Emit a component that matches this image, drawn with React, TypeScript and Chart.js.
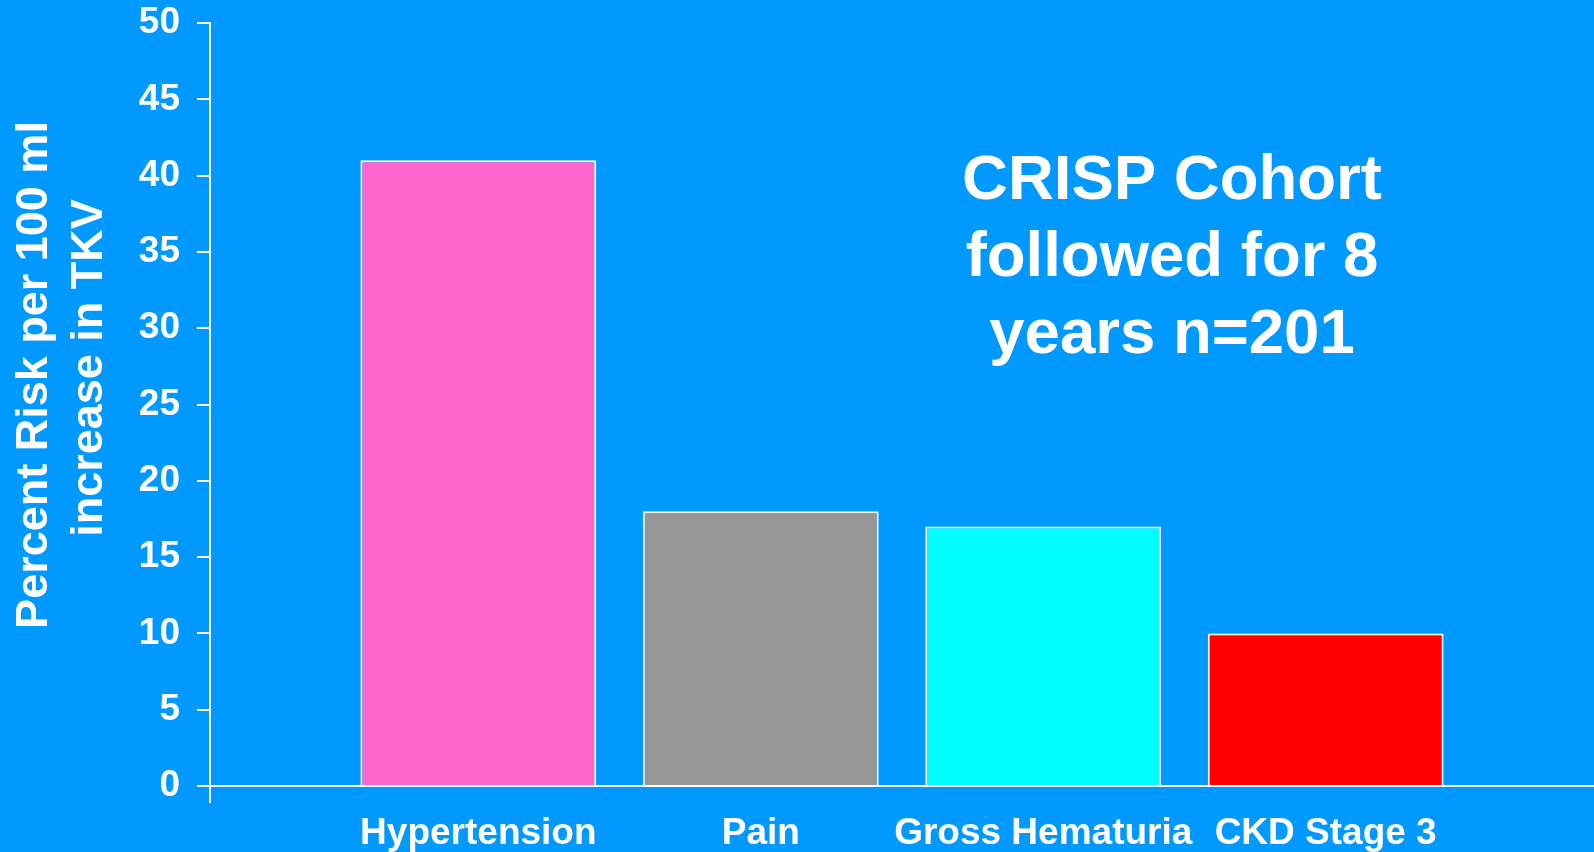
import React, { useEffect, useRef } from "react";
import { Chart, registerables } from "chart.js";

Chart.register(...registerables);

// ---- data ----
const categories = ["Hypertension", "Pain", "Gross Hematuria", "CKD Stage 3"];
const categoryPositions = [1, 2, 3, 4];
const riskValues = [41, 18, 17, 10];
const barColors = ["#FF66CC", "#969696", "#00FFFF", "#FF0000"];
const yTickValues = [0, 5, 10, 15, 20, 25, 30, 35, 40, 45, 50];
const yTitleLines = ["Percent Risk per 100 ml", "increase in TKV"];
const noteLines = ["CRISP Cohort", "followed for 8", "years n=201"];

const FONT = '"Liberation Sans", Arial, Helvetica, sans-serif';
const BG = "#0099FF";

const decorPlugin = {
  id: "decor",
  afterDraw(chart: any) {
    const { ctx, chartArea } = chart;
    ctx.save();
    // y axis continues a little below the x axis
    ctx.strokeStyle = "#FFFFFF";
    ctx.lineWidth = 2;
    ctx.beginPath();
    ctx.moveTo(chartArea.left, chartArea.bottom);
    ctx.lineTo(chartArea.left, chartArea.bottom + 17);
    ctx.stroke();

    ctx.fillStyle = "#FFFFFF";
    // rotated y-axis title (two lines)
    ctx.font = `bold 45px ${FONT}`;
    ctx.textAlign = "center";
    ctx.textBaseline = "alphabetic";
    const titlePos = [
      [47, 375],
      [102, 368],
    ];
    yTitleLines.forEach((line, i) => {
      ctx.save();
      ctx.translate(titlePos[i][0], titlePos[i][1]);
      ctx.rotate(-Math.PI / 2);
      ctx.fillText(line, 0, 0);
      ctx.restore();
    });

    // annotation text block
    ctx.font = `bold 63.5px ${FONT}`;
    ctx.textAlign = "center";
    noteLines.forEach((line, i) => {
      ctx.fillText(line, 1172, 199 + i * 77);
    });
    ctx.restore();
  },
};

export default function App() {
  const canvasRef = useRef<HTMLCanvasElement | null>(null);

  useEffect(() => {
    if (!canvasRef.current) return;
    const chart = new Chart(canvasRef.current, {
      type: "bar",
      data: {
        datasets: [
          {
            data: categoryPositions.map((x, i) => ({ x, y: riskValues[i] })),
            backgroundColor: barColors,
            borderColor: "#FFFFFF",
            borderWidth: 2,
            barPercentage: 0.835,
            categoryPercentage: 1,
          },
        ],
      },
      options: {
        animation: false,
        responsive: true,
        maintainAspectRatio: false,
        layout: { padding: { top: 23, left: 0, right: 0, bottom: 0 } },
        plugins: {
          legend: { display: false },
          tooltip: { enabled: false },
          title: { display: false },
        },
        scales: {
          x: {
            type: "linear",
            min: 0.05,
            max: 4.95,
            offset: false,
            afterBuildTicks: (axis: any) => {
              axis.ticks = categoryPositions.map((v) => ({ value: v }));
            },
            afterFit: (scale: any) => {
              scale.height = 66;
              scale.paddingLeft = 0;
              scale.paddingRight = 0;
            },
            grid: { display: true, drawOnChartArea: false, drawTicks: false, offset: false },
            border: { display: true, color: "#FFFFFF", width: 2 },
            ticks: {
              color: "#FFFFFF",
              padding: 26,
              maxRotation: 0,
              autoSkip: false,
              font: { family: FONT, size: 37, weight: "bold" },
              callback: (value: any) => {
                const idx = categoryPositions.indexOf(Number(value));
                return idx >= 0 ? categories[idx] : "";
              },
            },
          },
          y: {
            min: 0,
            max: 50,
            afterBuildTicks: (axis: any) => {
              axis.ticks = yTickValues.map((v) => ({ value: v }));
            },
            afterFit: (scale: any) => {
              scale.width = 210;
              scale.paddingTop = 0;
              scale.paddingBottom = 0;
            },
            grid: {
              drawOnChartArea: false,
              drawTicks: true,
              tickLength: 13,
              color: "#FFFFFF",
              lineWidth: 2,
            },
            border: { display: true, color: "#FFFFFF", width: 2 },
            ticks: {
              color: "#FFFFFF",
              padding: 17,
              font: { family: FONT, size: 37, weight: "bold" },
            },
          },
        },
      },
      plugins: [decorPlugin],
    } as any);
    return () => chart.destroy();
  }, []);

  return (
    <div
      style={{
        position: "fixed",
        left: 0,
        top: 0,
        width: 1594,
        height: 852,
        background: BG,
      }}
    >
      <canvas ref={canvasRef} />
    </div>
  );
}
